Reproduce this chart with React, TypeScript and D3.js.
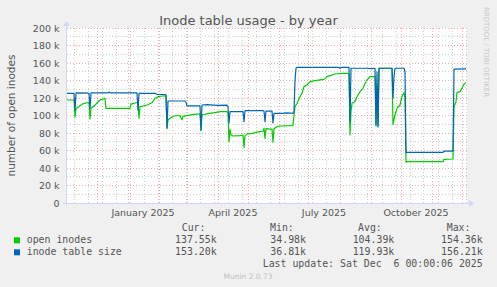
import React from "react";
import * as d3 from "d3";

const W = 497;
const H = 287;
const DAY = 864e5;
const END = Date.UTC(2025, 11, 6);
const START = END - 400 * DAY;

const TITLE = "Inode table usage - by year";
const Y_TITLE = "number of open inodes";
const yTicks = [0, 20, 40, 60, 80, 100, 120, 140, 160, 180, 200];
const yTickLabels = ["0", "20 k", "40 k", "60 k", "80 k", "100 k", "120 k", "140 k", "160 k", "180 k", "200 k"];
const xLabelMonths = [Date.UTC(2025, 0, 1), Date.UTC(2025, 3, 1), Date.UTC(2025, 6, 1), Date.UTC(2025, 9, 1)];
const xLabelTexts = ["January 2025", "April 2025", "July 2025", "October 2025"];

const seriesNames = ["open inodes", "inode table size"];
const seriesColors = ["#00CC00", "#0066B3"];
const curValues = ["137.55k", "153.20k"];
const minValues = ["34.98k", "36.81k"];
const avgValues = ["104.39k", "119.93k"];
const maxValues = ["154.36k", "156.21k"];

// [day offset from start, value in thousands]
const openInodes: [number, number][] = [
  [0, 117.7], [7, 117.7], [8, 98], [9, 108], [12, 110], [15, 113], [20, 114.6], [22, 115], [23, 96], [24, 108],
  [28, 112], [33, 117.7], [38, 119.6], [39, 108.2], [63, 108.2], [64, 113], [69, 114.6], [71, 115], [72, 96.8],
  [73, 110], [80, 112], [85, 114.6], [88, 119.6], [91, 121.5], [95, 122.3], [98, 122.6], [99, 121.5], [100, 85],
  [101, 94.9], [103, 96.8], [107, 99.4], [113, 100], [115, 95], [116, 99], [118, 99.5], [127, 101.3], [132, 101.8],
  [133, 102], [134, 82.6], [135, 100.6], [142, 102.5], [148, 103.2], [153, 104.4], [160, 104.4], [161, 103],
  [162, 70], [163, 84], [164, 78], [166, 76.6], [173, 77], [176, 77.7], [177, 63.5], [178, 77], [181, 79.6],
  [183, 78.9], [188, 80.4], [193, 81.5], [196, 82], [197, 85.3], [198, 73.9], [199, 85], [203, 84.5], [205, 84.5],
  [206, 69.5], [207, 85], [210, 87.2], [213, 88], [225, 88.4], [226, 89], [227, 100], [228, 110], [230, 113.9],
  [233, 121.5], [235, 125.4], [237, 133], [240, 134.9], [243, 138.7], [248, 139.8], [257, 141.3], [260, 144.4],
  [268, 147.4], [275, 148.2], [281, 148.2], [282, 147], [283, 77.7], [284, 105], [285, 113.9], [288, 116],
  [290, 121.5], [293, 127.2], [296, 131], [298, 136.8], [300, 140.6], [303, 144.4], [308, 144.4], [309, 90],
  [310, 135], [311, 88], [312, 154], [325, 154], [326, 89.7], [328, 100.6], [330, 108.2], [333, 112], [335, 122],
  [337, 126], [338, 120], [339, 46.5], [340, 47.2], [376, 47.2], [377, 49.9], [386, 50.3], [387, 110],
  [389, 115.8], [390, 126.5], [393, 127.2], [395, 131], [397, 136], [399, 137.55],
];

const inodeTable: [number, number][] = [
  [0, 125.4], [7, 125.4], [8, 106], [9, 125.8], [21, 125.5], [22, 125], [23, 108], [24, 125.8], [41, 125.8],
  [42, 127], [43, 125.8], [70, 125.8], [71, 106], [72, 125.4], [88, 125.4], [90, 124.2], [99, 124], [100, 85.7],
  [101, 116.6], [118, 116.6], [119, 115], [120, 111], [133, 110.9], [134, 83.4], [135, 112], [140, 112.5],
  [150, 111.5], [160, 111.8], [161, 110], [162, 91.4], [163, 104.4], [176, 104.4], [177, 93], [178, 105.5],
  [196, 105.5], [197, 105], [198, 93], [199, 105.1], [205, 105.1], [206, 91.5], [207, 102.5], [215, 102.5],
  [220, 103], [226, 102.5], [227, 105], [228, 140], [229, 154], [230, 155.1], [272, 155.1], [273, 153.8],
  [274, 155.1], [282, 155.1], [283, 93], [284, 154], [300, 154], [305, 153.6], [308, 154], [309, 88], [310, 150],
  [311, 87], [312, 154], [325, 154], [326, 120], [327, 145], [328, 154], [337, 154], [338, 150], [339, 57.5],
  [340, 57.9], [376, 57.9], [377, 59.4], [386, 59.4], [387, 153], [399, 153.2],
];

const series = [openInodes, inodeTable];

const FONT = "'DejaVu Sans', Verdana, sans-serif";
const MONO = "'DejaVu Sans Mono', monospace";
const TXT = "#555555";

export default function App() {
  const left = 67, right = 467, top = 28, bottom = 203;
  const x = d3.scaleUtc().domain([START, END]).range([left, right]);
  const y = d3.scaleLinear().domain([0, 200]).range([bottom, top]);
  const crisp = (v: number) => Math.floor(v) + 0.5;

  const line = d3
    .line<[number, number]>()
    .x((d) => x(START + d[0] * DAY))
    .y((d) => y(d[1]));

  const minorY = d3.range(10, 200, 20);
  const monthLines = d3.utcMonth.range(new Date(START + 1), new Date(END));
  const minorX = d3.range(7, 400, 14).map((d) => START + d * DAY);

  return (
    <svg width={W} height={H} style={{ display: "block", position: "absolute", left: 0, top: 0 }}>
      <rect x={0} y={0} width={W} height={H} fill="#F0F0F0" />
      <rect x={left} y={top} width={right - left} height={bottom - top} fill="#FFFFFF" />
      {/* minor grid */}
      <g stroke="#CCCCCC" strokeWidth={1} strokeDasharray="1,2" fill="none">
        {minorY.map((v) => (
          <line key={"my" + v} x1={left} x2={right} y1={crisp(y(v))} y2={crisp(y(v))} />
        ))}
        {minorX.map((t) => (
          <line key={"mx" + t} x1={crisp(x(t))} x2={crisp(x(t))} y1={top} y2={bottom} />
        ))}
      </g>
      {/* major grid */}
      <g stroke="#F0A8A8" strokeWidth={1} strokeDasharray="1,2" fill="none">
        {yTicks.filter((v) => v > 0).map((v) => (
          <line key={"My" + v} x1={left} x2={right} y1={crisp(y(v))} y2={crisp(y(v))} />
        ))}
        {monthLines.map((t) => (
          <line key={"Mx" + +t} x1={crisp(x(t))} x2={crisp(x(t))} y1={top} y2={bottom} />
        ))}
      </g>
      {/* y tick labels */}
      <g fontFamily={FONT} fontSize={9.5} fill={TXT} textAnchor="end">
        {yTicks.map((v, i) => (
          <text key={"yl" + v} x={59.5} y={y(v) + 3.5}>
            {yTickLabels[i]}
          </text>
        ))}
      </g>
      {/* x labels */}
      <g fontFamily={FONT} fontSize={9.5} fill={TXT} textAnchor="middle">
        {xLabelMonths.map((t, i) => (
          <text key={"xl" + t} x={x(t + 15 * DAY)} y={216}>
            {xLabelTexts[i]}
          </text>
        ))}
      </g>
      {/* series */}
      {series.map((s, i) => (
        <path key={"s" + i} d={line(s) || ""} fill="none" stroke={seriesColors[i]} strokeWidth={1.2} strokeLinejoin="round" />
      ))}
      {/* axes */}
      <g stroke="#CFD6F8" strokeWidth={1}>
        <line x1={63} x2={470} y1={crisp(bottom)} y2={crisp(bottom)} />
        <line x1={crisp(left - 1)} x2={crisp(left - 1)} y1={bottom + 3} y2={24} />
      </g>
      <g fill="#CFD6F8">
        <path d={`M${left - 3.5},26 L${left - 0.5},21 L${left + 2.5},26 Z`} />
        <path d={`M469,200 L474,203.5 L469,207 Z`} />
      </g>
      {/* title */}
      <text x={248.5} y={24.5} fontFamily={FONT} fontSize={13} fill={TXT} textAnchor="middle">
        {TITLE}
      </text>
      <text
        transform={`translate(15,115.5) rotate(-90)`}
        fontFamily={FONT}
        fontSize={10.5}
        fill={TXT}
        textAnchor="middle"
      >
        {Y_TITLE}
      </text>
      <text
        transform={`translate(484,52) rotate(90)`}
        fontFamily={FONT}
        fontSize={7}
        fill="#C8C8C8"
        textAnchor="middle"
      >
        RRDTOOL / TOBI OETIKER
      </text>
      {/* legend */}
      <g fontFamily={MONO} fontSize={9.9} fill={TXT}>
        <text x={181.7} y={230.7}>Cur:</text>
        <text x={270} y={230.7}>Min:</text>
        <text x={358} y={230.7}>Avg:</text>
        <text x={446.7} y={230.7}>Max:</text>
        {seriesNames.map((n, i) => {
          const by = 242.7 + i * 12;
          return (
            <g key={"lg" + i}>
              <rect x={14} y={by - 5.7 + 0.3} width={6} height={6} fill={seriesColors[i]} />
              <text x={26.7} y={by}>{n}</text>
              <text x={216.7} y={by} textAnchor="end">{curValues[i]}</text>
              <text x={306} y={by} textAnchor="end">{minValues[i]}</text>
              <text x={394.3} y={by} textAnchor="end">{avgValues[i]}</text>
              <text x={482.7} y={by} textAnchor="end">{maxValues[i]}</text>
            </g>
          );
        })}
        <text x={482.7} y={266.7} textAnchor="end" xmlSpace="preserve" style={{ whiteSpace: "pre" }}>
          {"Last update: Sat Dec  6 00:00:06 2025"}
        </text>
      </g>
      <text x={248} y={279} fontFamily={FONT} fontSize={7.5} fill="#C0C0C0" textAnchor="middle">
        Munin 2.0.73
      </text>
    </svg>
  );
}
